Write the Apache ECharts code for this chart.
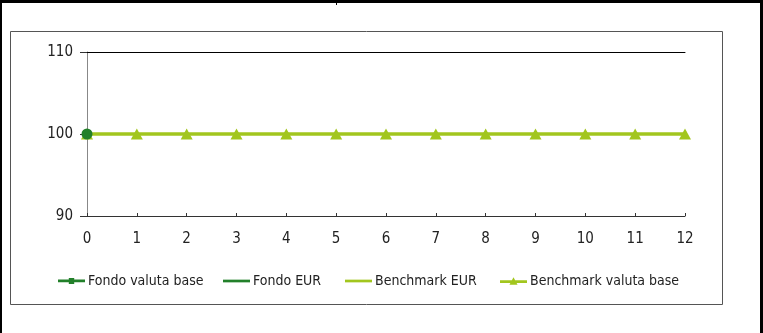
<!DOCTYPE html>
<html><head><meta charset="utf-8">
<script src="https://cdn.jsdelivr.net/npm/echarts@6/dist/echarts.min.js"></script>
<style>html,body{margin:0;padding:0;background:#fff}#c{width:763px;height:333px}</style>
</head><body><div id="c"></div>
<script>
const categories = ['0','1','2','3','4','5','6','7','8','9','10','11','12'];
const fondoValutaBase = [100];
const fondoEUR = [];
const benchmarkEUR = [100,100,100,100,100,100,100,100,100,100,100,100,100];
const benchmarkValutaBase = [100,100,100,100,100,100,100,100,100,100,100,100,100];
const seriesNames = ['Fondo valuta base','Fondo EUR','Benchmark EUR','Benchmark valuta base'];

const dark = '#22802a', light = '#a2c61e';
const font = '"DejaVu Sans Condensed", "Liberation Sans Narrow", "Liberation Sans", Arial, sans-serif';
const lineIcon = 'path://M0,3.2L20,3.2L20,5.2L0,5.2Z';
const legendIcons = [
  'path://M0,3.2L20,3.2L20,5.2L0,5.2Z M8,2L12,2L12,6.5L8,6.5Z',
  lineIcon, lineIcon,
  'path://M0,3.2L20,3.2L20,5.2L0,5.2Z M10,1L13,6.5L7,6.5Z'
];
const legendLeft = [53, 218, 340, 495];
const legends = seriesNames.map((n, i) => ({
  top: 269, left: legendLeft[i], itemWidth: 27, itemHeight: 8, itemGap: 0,
  textStyle: {color:'#222', fontFamily: font, fontSize: 14, padding:[0,0,0,-2]},
  data: [{name: n, icon: legendIcons[i]}]
}));

const chart = echarts.init(document.getElementById('c'), null, {renderer:'canvas'});
chart.setOption({
  animation:false,
  backgroundColor:'#fff',
  graphic:[
    {type:'rect', shape:{x:0,y:0,width:763,height:3}, style:{fill:'#000'}},
    {type:'rect', shape:{x:0,y:0,width:2,height:333}, style:{fill:'#000'}},
    {type:'rect', shape:{x:760,y:0,width:3,height:333}, style:{fill:'#000'}},
    {type:'rect', shape:{x:336,y:0,width:1,height:5}, style:{fill:'#000'}},
    {type:'rect', shape:{x:10.5,y:31.5,width:712,height:273}, style:{fill:'none',stroke:'#555',lineWidth:1}}
  ],
  grid:{left:87,right:78,top:52,bottom:117,containLabel:false},
  xAxis:[{
    type:'category', data:categories, boundaryGap:false,
    axisLine:{lineStyle:{color:'#333',width:1}},
    axisTick:{inside:true,length:3,lineStyle:{color:'#333'}},
    axisLabel:{color:'#222',fontFamily:font,fontSize:15,margin:16},
    splitLine:{show:false}
  },{
    type:'category', data:categories, boundaryGap:false, position:'top',
    axisLine:{lineStyle:{color:'#000',width:1}},
    axisTick:{show:false}, axisLabel:{show:false}, splitLine:{show:false}
  }],
  yAxis:{
    type:'value', min:90, max:110, interval:10,
    axisLine:{show:true,lineStyle:{color:'#888'}},
    axisTick:{show:true,length:7,lineStyle:{color:'#333'}},
    axisLabel:{color:'#222',fontFamily:font,fontSize:15,margin:14},
    splitLine:{show:false}
  },
  legend: legends,
  series:[
    {name:seriesNames[1], type:'line', data:fondoEUR, symbol:'none', lineStyle:{color:dark,width:2}, itemStyle:{color:dark}},
    {name:seriesNames[2], type:'line', data:benchmarkEUR, symbol:'none', lineStyle:{color:light,width:3}, itemStyle:{color:light}},
    {name:seriesNames[3], type:'line', data:benchmarkValutaBase, symbol:'triangle', symbolSize:[12,11], lineStyle:{color:light,width:3}, itemStyle:{color:light}},
    {name:seriesNames[0], type:'line', data:fondoValutaBase, symbol:'circle', symbolSize:11, lineStyle:{color:dark,width:2}, itemStyle:{color:dark}}
  ]
});
</script></body></html>
